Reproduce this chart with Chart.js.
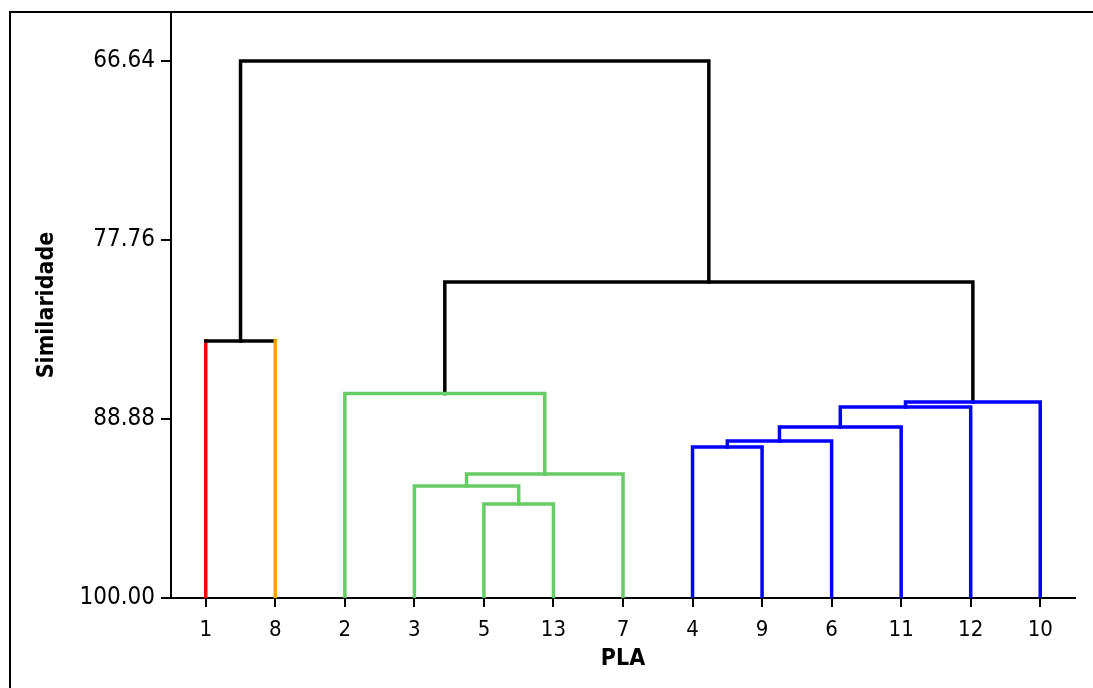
<!DOCTYPE html>
<html>
<head>
<meta charset="utf-8">
<script src="https://cdn.jsdelivr.net/npm/chart.js@4.4.1/dist/chart.umd.min.js"></script>
<style>
  html, body { margin: 0; padding: 0; background: #fff; }
  canvas { display: block; }
</style>
</head>
<body>
<canvas id="dendro" width="1093" height="688"></canvas>
<script>
// leaves, in the order they sit along the axis
const leafLabels = ['1', '8', '2', '3', '5', '13', '7', '4', '9', '6', '11', '12', '10'];
const leafColors = ['#ff0000', '#ffa200', '#66cc66', '#66cc66', '#66cc66', '#66cc66', '#66cc66',
                    '#0000ff', '#0000ff', '#0000ff', '#0000ff', '#0000ff', '#0000ff'];
const yTickValues = [66.64, 77.76, 88.88, 100.00];

// merges: ids 0..12 are leaves, each merge gets the next id (13, 14, ...)
const mergeLeft   = [4, 3, 14, 2, 0, 7, 18, 19, 20, 21, 16, 17];
const mergeRight  = [5, 13, 6, 15, 1, 8, 9, 10, 11, 12, 22, 23];
const mergeHeight = [94.16, 93.04, 92.30, 87.30, 84.03, 90.62, 90.25, 89.38, 88.13, 87.82, 80.37, 66.64];
const mergeColor  = ['#66cc66', '#66cc66', '#66cc66', '#66cc66', '#000000',
                     '#0000ff', '#0000ff', '#0000ff', '#0000ff', '#0000ff', '#000000', '#000000'];

const FONT = "Tahoma, 'DejaVu Sans Condensed', 'DejaVu Sans', sans-serif";
const nLeaves = leafLabels.length;

// node positions (x in leaf index units, y in similarity)
const nodeX = leafLabels.map((_, i) => i);
const nodeY = leafLabels.map(() => 100);
const datasets = [];

mergeLeft.forEach((l, m) => {
    const r = mergeRight[m];
    const h = mergeHeight[m];
    const colL = l < nLeaves ? leafColors[l] : mergeColor[m];
    const colR = r < nLeaves ? leafColors[r] : mergeColor[m];
    const cols = [colL, mergeColor[m], colR];
    datasets.push({
        data: [
            { x: nodeX[l], y: nodeY[l] },
            { x: nodeX[l], y: h },
            { x: nodeX[r], y: h },
            { x: nodeX[r], y: nodeY[r] },
        ],
        borderColor: mergeColor[m],
        borderWidth: 3.5,
        borderCapStyle: 'square',
        borderJoinStyle: 'miter',
        pointRadius: 0,
        fill: false,
        tension: 0,
        segment: {
            borderColor: ctx => cols[ctx.p0DataIndex],
        },
    });
    nodeX.push((nodeX[l] + nodeX[r]) / 2);
    nodeY.push(h);
});

// outer frame of the picture
const framePlugin = {
    id: 'frame',
    afterDraw(chart) {
        const c = chart.ctx;
        c.save();
        c.fillStyle = '#000';
        c.fillRect(9, 11, 2, 700);
        c.fillRect(9, 11, 1100, 2);
        c.restore();
    }
};

new Chart(document.getElementById('dendro'), {
    type: 'line',
    data: { datasets },
    plugins: [framePlugin],
    options: {
        responsive: false,
        animation: false,
        devicePixelRatio: 1,
        layout: { padding: { left: 0, top: 12, right: 18, bottom: 0 } },
        plugins: {
            legend: { display: false },
            tooltip: { enabled: false },
        },
        scales: {
            x: {
                type: 'linear',
                position: 'bottom',
                min: -0.5,
                max: 12.5,
                afterBuildTicks: s => { s.ticks = leafLabels.map((_, i) => ({ value: i })); },
                afterFit: s => { s.height = 90; s.paddingLeft = 0; s.paddingRight = 0; },
                grid: { drawOnChartArea: false, drawTicks: true, tickLength: 9, color: '#000', lineWidth: 2 },
                border: { display: true, color: '#000', width: 2 },
                ticks: {
                    color: '#000',
                    font: { family: FONT, size: 22 },
                    padding: 10,
                    maxRotation: 0,
                    autoSkip: false,
                    callback: v => leafLabels[v],
                },
                title: {
                    display: true,
                    text: 'PLA',
                    color: '#000',
                    font: { family: FONT, size: 23, weight: 'bold', lineHeight: 1.2 },
                    padding: { top: 0, bottom: 15 },
                },
            },
            y: {
                type: 'linear',
                position: 'left',
                reverse: true,
                min: 63.60,
                max: 100,
                afterBuildTicks: s => { s.ticks = yTickValues.map(v => ({ value: v })); },
                afterFit: s => { s.width = 171; s.paddingTop = 0; s.paddingBottom = 0; },
                grid: { drawOnChartArea: false, drawTicks: true, tickLength: 10, color: '#000', lineWidth: 2 },
                border: { display: true, color: '#000', width: 2 },
                ticks: {
                    color: '#000',
                    font: { family: FONT, size: 24 },
                    padding: 6,
                    callback: v => v.toFixed(2),
                },
                title: {
                    display: true,
                    text: 'Similaridade',
                    color: '#000',
                    font: { family: FONT, size: 23, weight: 'bold', lineHeight: 1.2 },
                    padding: { top: 33, bottom: 0 },
                },
            },
        },
    },
});
</script>
</body>
</html>
